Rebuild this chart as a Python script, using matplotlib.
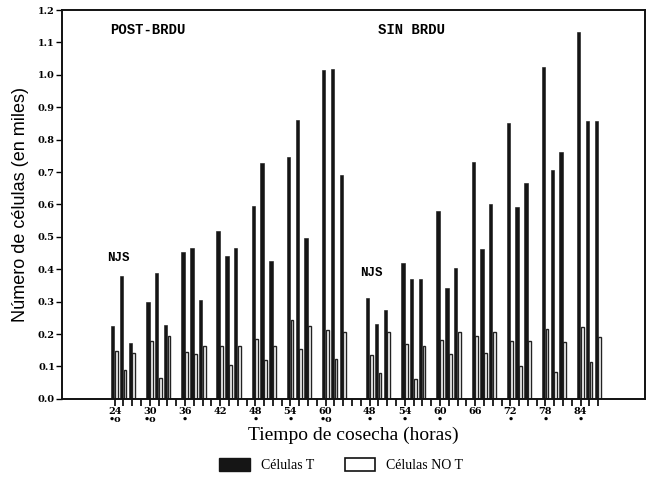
import numpy as np
import matplotlib
matplotlib.use("Agg")
import matplotlib.pyplot as plt
from matplotlib.patches import Patch

# hours for each block of the chart
post_hours = [24, 30, 36, 42, 48, 54, 60]
sin_hours = [48, 54, 60, 66, 72, 78, 84]
# significance marks under the hour labels
post_marks = ["•o", "•o", "•", "", "•", "•", "•o"]
sin_marks = ["•", "•", "•", "", "•", "•", "•"]

# three replicates per harvest time (thousands of cells)
post_T = [[0.226, 0.378, 0.172],
          [0.298, 0.389, 0.228],
          [0.452, 0.467, 0.306],
          [0.517, 0.440, 0.466],
          [0.595, 0.729, 0.427],
          [0.746, 0.860, 0.497],
          [1.015, 1.018, 0.691]]
post_noT = [[0.147, 0.090, 0.142],
            [0.180, 0.064, 0.193],
            [0.146, 0.138, 0.162],
            [0.162, 0.105, 0.162],
            [0.185, 0.121, 0.162],
            [0.242, 0.154, 0.226],
            [0.213, 0.123, 0.206]]
sin_T = [[0.312, 0.231, 0.275],
         [0.420, 0.370, 0.370],
         [0.581, 0.342, 0.405],
         [0.732, 0.464, 0.603],
         [0.851, 0.593, 0.667],
         [1.023, 0.706, 0.763],
         [1.131, 0.858, 0.858]]
sin_noT = [[0.136, 0.079, 0.206],
           [0.170, 0.061, 0.164],
           [0.182, 0.139, 0.207],
           [0.195, 0.141, 0.205],
           [0.180, 0.100, 0.180],
           [0.216, 0.082, 0.177],
           [0.221, 0.115, 0.191]]

shift = 19.5   # second block placed after the first on one axis
step = 1.5     # spacing of replicates

fig = plt.figure(figsize=(6.51, 4.80), dpi=100)
ax = fig.add_axes([0.095, 0.169, 0.896, 0.810])

centers = list(post_hours) + [h + shift for h in sin_hours]
T_all = post_T + sin_T
N_all = post_noT + sin_noT

for c, tv, nv in zip(centers, T_all, N_all):
    for k in range(3):
        x = c + k * step
        ax.bar(x - 0.33, tv[k], width=0.58, color="#151515", edgecolor="#151515", linewidth=0.4)
        ax.bar(x + 0.27, nv[k], width=0.48, color="white", edgecolor="#222222", linewidth=1.0)

ax.set_xlim(15, 114.5)
ax.set_ylim(0, 1.2)
ax.set_yticks(np.arange(0, 1.21, 0.1))
ax.set_yticklabels([f"{v:.1f}" for v in np.arange(0, 1.21, 0.1)],
                   fontsize=7, fontweight="bold", family="DejaVu Serif")

labels = []
for h, m in zip(post_hours + sin_hours, post_marks + sin_marks):
    labels.append(f"{h}\n{m}" if m else f"{h}")
ax.set_xticks(centers)
ax.set_xticklabels(labels, fontsize=7, fontweight="bold", family="DejaVu Serif", linespacing=0.8)
ax.set_xticks(np.arange(24, 107, 1.5), minor=True)
ax.tick_params(axis="x", which="both", direction="out", length=5, width=1.2, pad=1)
ax.tick_params(axis="y", direction="out", length=4, width=1.0, pad=1)

for s in ax.spines.values():
    s.set_linewidth(1.4)
    s.set_color("#111111")

ax.set_ylabel("Número de células (en miles)", fontsize=13, family="Liberation Sans", labelpad=6)
ax.set_xlabel("Tiempo de cosecha (horas)", fontsize=14, family="Liberation Serif", labelpad=2)

ax.text(23.2, 1.14, "POST-BRDU", fontsize=10, fontweight="bold", family="Liberation Mono", va="center")
ax.text(69.0, 1.14, "SIN BRDU", fontsize=10, fontweight="bold", family="Liberation Mono", va="center")
ax.text(22.8, 0.436, "NJS", fontsize=9, fontweight="bold", family="Liberation Mono", va="center")
ax.text(65.9, 0.39, "NJS", fontsize=9, fontweight="bold", family="Liberation Mono", va="center")

handles = [Patch(facecolor="#151515", edgecolor="#151515", label="Células T"),
           Patch(facecolor="white", edgecolor="#111111", linewidth=1.2, label="Células NO T")]
fig.legend(handles=handles, loc="center", bbox_to_anchor=(0.524, 0.031), ncol=2, frameon=False,
           prop={"family": "Liberation Serif", "size": 10}, handlelength=2.2, handleheight=1.0,
           handletextpad=0.8, columnspacing=2.2)

fig.savefig("out.png", dpi=100)
